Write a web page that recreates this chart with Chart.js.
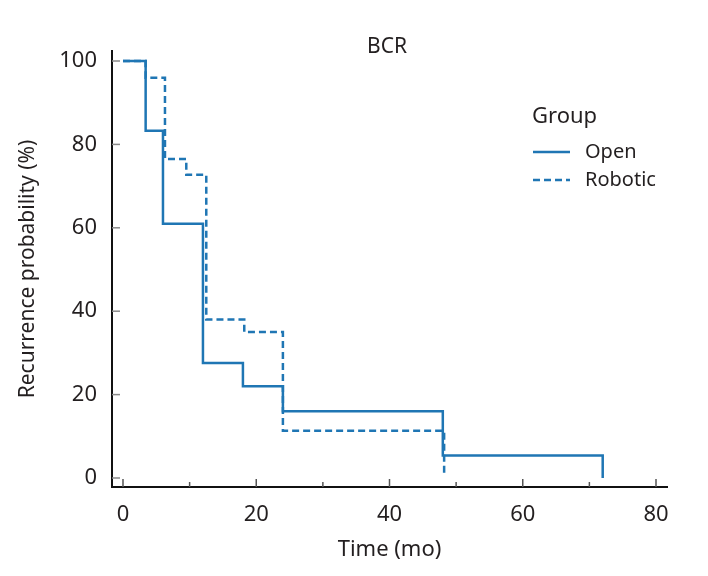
<!DOCTYPE html>
<html>
<head>
<meta charset="utf-8">
<script src="https://cdn.jsdelivr.net/npm/chart.js@4.4.0/dist/chart.umd.min.js"></script>
<style>
  body { margin: 0; background: #fff; }
  #wrap { width: 708px; height: 576px; }
</style>
</head>
<body>
<div id="wrap"><canvas id="km-chart"></canvas></div>
<script>
// Kaplan-Meier steps (time in months, probability in %)
const openTimes = [0, 3.4, 6, 12, 18, 24, 48, 72];
const openValues = [100, 83.3, 61, 27.6, 22, 16, 5.4, 0];
const roboticTimes = [0, 3.4, 6.3, 9.5, 12.5, 18.2, 24, 48.2];
const roboticValues = [100, 96, 76.5, 72.7, 38, 35, 11.3, 1.2];

const xMajorTicks = [0, 20, 40, 60, 80];
const xMinorTicks = [10, 30, 50, 70];
const yTicks = [0, 20, 40, 60, 80, 100];

const seriesNames = ['Open', 'Robotic'];
const legendTitle = 'Group';
const chartTitle = 'BCR';

const BLUE = '#1f76b4';
const TEXT = '#231f20';
const FONT = "'Noto Sans', sans-serif";

const toPoints = (xs, ys) => xs.map((x, i) => ({ x: x, y: ys[i] }));

// inward ticks, title and legend
const decorPlugin = {
    id: 'decor',
    afterDraw(chart) {
        const ctx = chart.ctx;
        const xs = chart.scales.x;
        const ys = chart.scales.y;
        const area = chart.chartArea;
        ctx.save();

        ctx.strokeStyle = '#8a8a8a';
        ctx.lineWidth = 1.5;
        yTicks.forEach(v => {
            const py = ys.getPixelForValue(v);
            ctx.beginPath();
            ctx.moveTo(area.left, py);
            ctx.lineTo(area.left + 8, py);
            ctx.stroke();
        });
        ctx.strokeStyle = '#555';
        xMajorTicks.forEach(v => {
            const px = xs.getPixelForValue(v);
            ctx.beginPath();
            ctx.moveTo(px, area.bottom);
            ctx.lineTo(px, area.bottom - 8);
            ctx.stroke();
        });
        xMinorTicks.forEach(v => {
            const px = xs.getPixelForValue(v);
            ctx.beginPath();
            ctx.moveTo(px, area.bottom);
            ctx.lineTo(px, area.bottom - 5);
            ctx.stroke();
        });

        ctx.fillStyle = TEXT;
        ctx.textBaseline = 'middle';
        ctx.textAlign = 'center';
        ctx.font = '21px ' + FONT;
        ctx.fillText(chartTitle, 387, 47);

        // legend
        ctx.textAlign = 'left';
        ctx.font = '22px ' + FONT;
        ctx.fillText(legendTitle, 532, 117);
        ctx.font = '20px ' + FONT;
        const rows = [152, 180];
        chart.data.datasets.forEach((ds, i) => {
            ctx.strokeStyle = ds.borderColor;
            ctx.lineWidth = ds.borderWidth;
            ctx.setLineDash(ds.borderDash || []);
            ctx.beginPath();
            ctx.moveTo(533, rows[i]);
            ctx.lineTo(570, rows[i]);
            ctx.stroke();
            ctx.setLineDash([]);
            ctx.fillText(ds.label, 585, rows[i]);
        });
        ctx.restore();
    }
};

const ctx = document.getElementById('km-chart').getContext('2d');
const chart = new Chart(ctx, {
    type: 'line',
    data: {
        datasets: [{
            label: seriesNames[0],
            data: toPoints(openTimes, openValues),
            borderColor: BLUE,
            borderWidth: 2.5,
            stepped: 'before',
            pointRadius: 0,
            fill: false
        }, {
            label: seriesNames[1],
            data: toPoints(roboticTimes, roboticValues),
            borderColor: BLUE,
            borderWidth: 2.5,
            borderDash: [7, 4],
            stepped: 'before',
            pointRadius: 0,
            fill: false
        }]
    },
    options: {
        responsive: true,
        maintainAspectRatio: false,
        animation: false,
        layout: {
            padding: { top: 51, right: 41, left: 0, bottom: 0 }
        },
        scales: {
            x: {
                type: 'linear',
                min: -1.65,
                max: 81.65,
                afterBuildTicks: s => { s.ticks = xMajorTicks.map(v => ({ value: v })); },
                afterFit: s => { s.height = 89; },
                grid: { display: false, drawTicks: false },
                border: { display: true, color: '#111', width: 2 },
                ticks: {
                    padding: 15,
                    color: TEXT,
                    font: { family: FONT, size: 22 },
                    maxRotation: 0
                },
                title: {
                    display: true,
                    text: 'Time (mo)',
                    color: TEXT,
                    font: { family: FONT, size: 22 },
                    padding: { top: 0, bottom: 13 }
                }
            },
            y: {
                min: -2.16,
                max: 102.4,
                afterBuildTicks: s => { s.ticks = yTicks.map(v => ({ value: v })); },
                afterFit: s => { s.width = 112; },
                grid: { display: false, drawTicks: false },
                border: { display: true, color: '#111', width: 2 },
                ticks: {
                    padding: 15,
                    color: TEXT,
                    font: { family: FONT, size: 22 }
                },
                title: {
                    display: true,
                    text: 'Recurrence probability (%)',
                    color: TEXT,
                    font: { family: FONT, size: 21 },
                    padding: { top: 15, bottom: 0 }
                }
            }
        },
        plugins: {
            legend: { display: false },
            tooltip: { enabled: false }
        }
    },
    plugins: [decorPlugin]
});
</script>
</body>
</html>
